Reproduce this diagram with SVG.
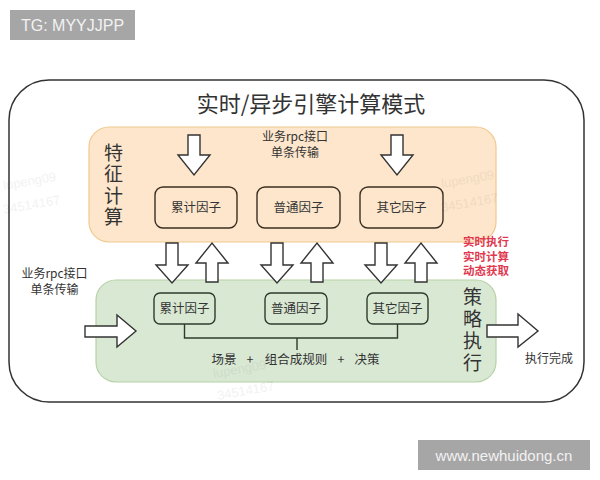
<svg xmlns="http://www.w3.org/2000/svg" width="600" height="480" viewBox="0 0 600 480">
<defs>
<style>
text{font-family:"Noto Sans CJK SC","Liberation Sans",sans-serif;fill:#333}
.arrow{fill:#fff;stroke:#333;stroke-width:1.4;stroke-linejoin:miter}
.fbox{fill:none;stroke:#3b2e22;stroke-width:1.4}
.gbox{fill:none;stroke:#2f3a2c;stroke-width:1.4}
.lbl{font-size:12.5px;text-anchor:middle}
.small{font-size:12px;text-anchor:middle}
.vert{font-size:19px;writing-mode:vertical-rl;text-orientation:upright}
.red{font-size:11.5px;font-weight:bold;fill:#e0394f}
.wm{font-size:13px;fill:#000;opacity:0.05;font-family:"Liberation Sans",sans-serif}
</style>
</defs>
<rect width="600" height="480" fill="#fff"/>

<g id="outer">
<rect x="9" y="80" width="575" height="322" rx="40" fill="#fff" stroke="#333" stroke-width="1.5"/>
<text x="311" y="112" font-size="22" text-anchor="middle">实时/异步引擎计算模式</text>
</g>

<g id="feature-calc">
<rect x="89" y="127" width="407" height="115" rx="20" fill="#fde6cb" stroke="#f0c98f" stroke-width="1.2"/>
<text class="vert" x="113.5" y="143" style="letter-spacing:2.5px">特征计算</text>
<text class="small"><tspan x="295" y="140.5">业务rpc接口</tspan><tspan x="295" y="156.5">单条传输</tspan></text>
</g>

<g id="f-leiji"><rect class="fbox" x="155" y="187" width="82" height="41" rx="8"/><text class="lbl" x="196" y="212">累计因子</text></g>
<g id="f-putong"><rect class="fbox" x="257" y="187" width="83" height="41" rx="8"/><text class="lbl" x="298.5" y="212">普通因子</text></g>
<g id="f-qita"><rect class="fbox" x="360" y="187" width="83" height="41" rx="8"/><text class="lbl" x="401.5" y="212">其它因子</text></g>

<g id="strategy-exec">
<rect x="96" y="280" width="400" height="102" rx="20" fill="#d9e8d3" stroke="#b6d1a6" stroke-width="1.2"/>
<text class="vert" x="472.5" y="287.5" style="letter-spacing:3px">策略执行</text>
<text class="lbl" x="224" y="364">场景</text>
<text class="lbl" x="250" y="364">+</text>
<text class="lbl" x="296" y="364">组合成规则</text>
<text class="lbl" x="341" y="364">+</text>
<text class="lbl" x="367" y="364">决策</text>
</g>

<g id="s-leiji"><rect class="gbox" x="154" y="293" width="61" height="31" rx="6"/><text class="lbl" x="184.5" y="313">累计因子</text></g>
<g id="s-putong"><rect class="gbox" x="265" y="293" width="62" height="31" rx="6"/><text class="lbl" x="296" y="313">普通因子</text></g>
<g id="s-qita"><rect class="gbox" x="367" y="293" width="61" height="31" rx="6"/><text class="lbl" x="397.5" y="313">其它因子</text></g>

<g id="labels">
<text class="small"><tspan x="54.5" y="278">业务rpc接口</tspan><tspan x="54.5" y="294">单条传输</tspan></text>
<text class="red"><tspan x="463" y="246">实时执行</tspan><tspan x="463" y="260.5">实时计算</tspan><tspan x="463" y="275">动态获取</tspan></text>
<text class="small" x="549" y="363">执行完成</text>
</g>

<g id="connectors">
<path class="arrow" d="M188,135 H200 V155 H210 L194,175 L178,155 H188 Z"/>
<path class="arrow" d="M391,135 H403 V155 H413 L397,175 L381,155 H391 Z"/>
<path class="arrow" d="M166,243 H178 V265 H188 L172,283 L156,265 H166 Z"/>
<path class="arrow" d="M206,282 H218 V263 H228 L212,243 L196,263 H206 Z"/>
<path class="arrow" d="M271,243 H283 V265 H293 L277,283 L261,265 H271 Z"/>
<path class="arrow" d="M311,282 H323 V263 H333 L317,243 L301,263 H311 Z"/>
<path class="arrow" d="M375,243 H387 V265 H397 L381,283 L365,265 H375 Z"/>
<path class="arrow" d="M415,282 H427 V263 H437 L421,243 L405,263 H415 Z"/>
<path class="arrow" d="M85,326 H117 V315 L136,331 L117,347 V337 H85 Z"/>
<path class="arrow" d="M487,325 H518 V314 L538,331 L518,347 V337 H487 Z"/>
<path d="M184.5,324 V338 H397.5 V324 M297,338 V350" fill="none" stroke="#2f3a2c" stroke-width="1.4"/>
</g>

<g id="watermarks">
<text class="wm" transform="translate(4,190) rotate(-10)">lupeng09</text>
<text class="wm" transform="translate(4,214) rotate(-10)">34514167</text>
<text class="wm" transform="translate(442,188) rotate(-10)">lupeng09</text>
<text class="wm" transform="translate(442,212) rotate(-10)">34514167</text>
<text class="wm" transform="translate(214,378) rotate(-10)">lupeng09</text>
<text class="wm" transform="translate(218,400) rotate(-10)">34514167</text>
<rect x="10" y="10" width="125" height="30" fill="#a6a6a6"/>
<text x="72.5" y="31" font-size="16" text-anchor="middle" style="fill:#f2f2f2;font-family:'Liberation Sans',sans-serif">TG: MYYJJPP</text>
<rect x="418" y="440" width="172" height="30" fill="#a6a6a6"/>
<text x="504" y="461" font-size="15" text-anchor="middle" style="fill:#f2f2f2;font-family:'Liberation Sans',sans-serif">www.newhuidong.cn</text>
</g>
</svg>
